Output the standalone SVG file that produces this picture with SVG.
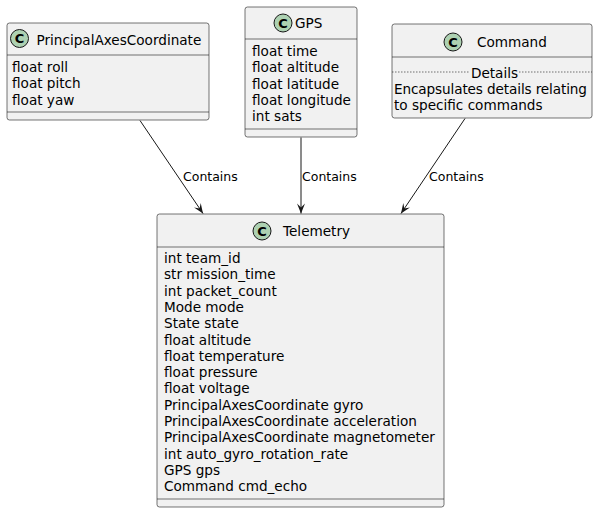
<svg xmlns="http://www.w3.org/2000/svg" width="605" height="515" viewBox="0 0 605 515">
<style>
.box{fill:#F1F1F1;stroke:#181818;stroke-width:0.6}
.sep{stroke:#181818;stroke-width:0.6}
.circ{fill:#ADD1B2;stroke:#181818;stroke-width:1}
.cl{font-family:"DejaVu Sans","Liberation Sans",sans-serif;font-size:13px;font-weight:bold;fill:#000;text-anchor:middle}
.t{font-family:"DejaVu Sans","Liberation Sans",sans-serif;font-size:13.6px;fill:#000}
.lbl{font-family:"DejaVu Sans","Liberation Sans",sans-serif;font-size:12.5px;fill:#000}
.edge{stroke:#181818;stroke-width:1;fill:none}
</style>
<defs>
<marker id="arr" viewBox="-11 -5 12 10" refX="0" refY="0" markerWidth="12" markerHeight="10" markerUnits="userSpaceOnUse" orient="auto">
<path d="M0,0 L-10,-4 L-6,0 L-10,4 Z" fill="#181818"/>
</marker>
</defs>
<rect width="605" height="515" fill="#FFFFFF"/>

<g id="PrincipalAxesCoordinate">
<rect class="box" x="7" y="23" width="202" height="97" rx="2.5"/>
<circle class="circ" cx="19.5" cy="38.5" r="9"/>
<text class="cl" x="19.5" y="43.2">C</text>
<text class="t" x="36.5" y="44.5">PrincipalAxesCoordinate</text>
<line class="sep" x1="7" y1="55" x2="209" y2="55"/>
<text class="t" x="12" y="72">float roll</text>
<text class="t" x="12" y="88.3">float pitch</text>
<text class="t" x="12" y="104.6">float yaw</text>
<line class="sep" x1="7" y1="112" x2="209" y2="112"/>
</g>

<g id="GPS">
<rect class="box" x="245" y="7" width="112" height="130" rx="2.5"/>
<circle class="circ" cx="283" cy="23" r="9"/>
<text class="cl" x="283" y="27.7">C</text>
<text class="t" x="295" y="28.3">GPS</text>
<line class="sep" x1="245" y1="39" x2="357" y2="39"/>
<text class="t" x="252" y="56">float time</text>
<text class="t" x="252" y="72.3">float altitude</text>
<text class="t" x="252" y="88.6">float latitude</text>
<text class="t" x="252" y="104.9">float longitude</text>
<text class="t" x="252" y="121.2">int sats</text>
<line class="sep" x1="245" y1="129" x2="357" y2="129"/>
</g>

<g id="Command">
<rect class="box" x="392" y="24" width="200" height="94" rx="2.5"/>
<circle class="circ" cx="453" cy="42" r="9"/>
<text class="cl" x="453" y="46.7">C</text>
<text class="t" x="477" y="46.7">Command</text>
<line class="sep" x1="392" y1="57" x2="592" y2="57"/>
<line class="sep" x1="392" y1="72" x2="470" y2="72" stroke-dasharray="1.5,1.5"/>
<line class="sep" x1="519" y1="72" x2="592" y2="72" stroke-dasharray="1.5,1.5"/>
<text class="t" x="494.5" y="77.5" text-anchor="middle">Details</text>
<text class="t" x="394" y="94" textLength="193">Encapsulates details relating</text>
<text class="t" x="394" y="110">to specific commands</text>
</g>

<g id="Telemetry">
<rect class="box" x="157" y="214" width="287" height="293" rx="2.5"/>
<circle class="circ" cx="262" cy="231" r="9"/>
<text class="cl" x="262" y="235.7">C</text>
<text class="t" x="283" y="236">Telemetry</text>
<line class="sep" x1="157" y1="247" x2="444" y2="247"/>
<text class="t" x="164" y="263">int team_id</text>
<text class="t" x="164" y="279.3">str mission_time</text>
<text class="t" x="164" y="295.6">int packet_count</text>
<text class="t" x="164" y="311.9">Mode mode</text>
<text class="t" x="164" y="328.2">State state</text>
<text class="t" x="164" y="344.5">float altitude</text>
<text class="t" x="164" y="360.8">float temperature</text>
<text class="t" x="164" y="377.1">float pressure</text>
<text class="t" x="164" y="393.4">float voltage</text>
<text class="t" x="164" y="409.7">PrincipalAxesCoordinate gyro</text>
<text class="t" x="164" y="426">PrincipalAxesCoordinate acceleration</text>
<text class="t" x="164" y="442.3">PrincipalAxesCoordinate magnetometer</text>
<text class="t" x="164" y="458.6">int auto_gyro_rotation_rate</text>
<text class="t" x="164" y="474.9">GPS gps</text>
<text class="t" x="164" y="491.2">Command cmd_echo</text>
<line class="sep" x1="157" y1="499" x2="444" y2="499"/>
</g>

<g id="connectors">
<line class="edge" x1="140" y1="120.5" x2="203" y2="213.5" marker-end="url(#arr)"/>
<text class="lbl" x="183" y="181">Contains</text>
<line class="edge" x1="301" y1="137.5" x2="301" y2="213.5" marker-end="url(#arr)"/>
<text class="lbl" x="302" y="181">Contains</text>
<line class="edge" x1="465" y1="118.5" x2="401" y2="213.5" marker-end="url(#arr)"/>
<text class="lbl" x="429" y="181">Contains</text>
</g>
</svg>
